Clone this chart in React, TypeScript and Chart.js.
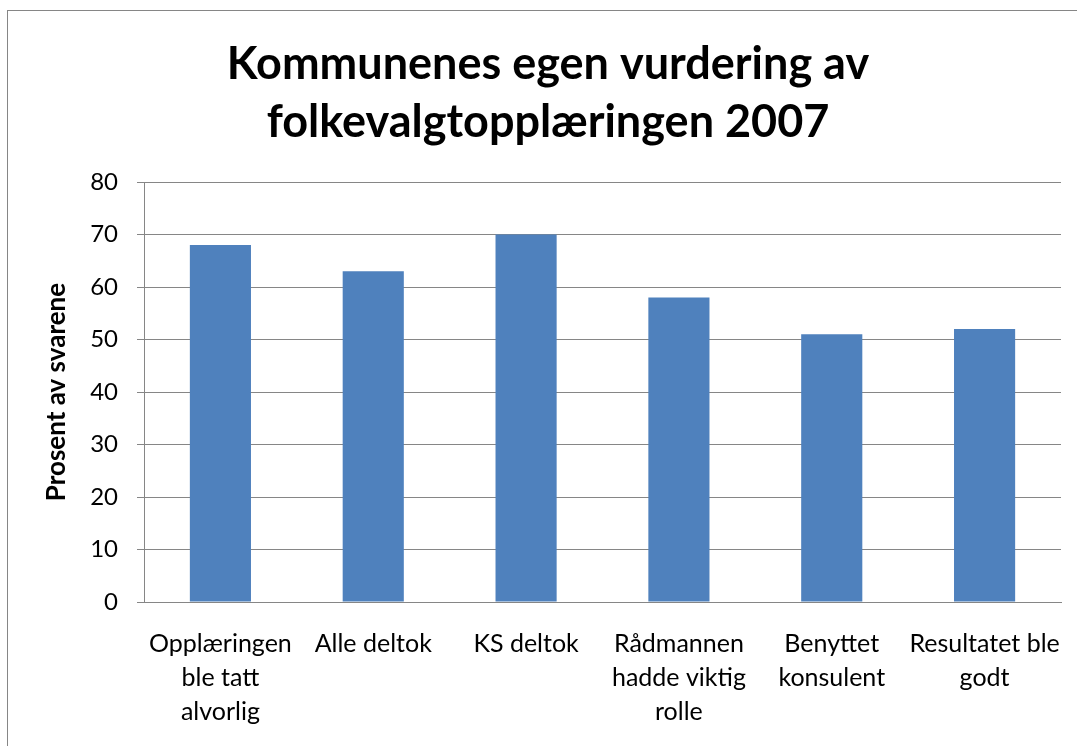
import React, { useEffect, useRef } from "react";
import { Chart, registerables } from "chart.js";

Chart.register(...registerables);

const categories: (string | string[])[] = [
  ["Opplæringen", "ble tatt", "alvorlig"],
  "Alle deltok",
  "KS deltok",
  ["Rådmannen", "hadde viktig", "rolle"],
  ["Benyttet", "konsulent"],
  ["Resultatet ble", "godt"],
];
const values = [68, 63, 70, 58, 51, 52];
const titleLines = ["Kommunenes egen vurdering av", "folkevalgtopplæringen 2007"];
const yAxisTitle = "Prosent av svarene";
const yMin = 0;
const yMax = 80;
const yStep = 10;

const FONT = "Lato, 'Open Sans', sans-serif";
const GRID = "#868686";
const PAD_L = 35;

export default function App() {
  const ref = useRef<HTMLCanvasElement | null>(null);

  useEffect(() => {
    if (!ref.current) return;
    const chart = new Chart(ref.current, {
      type: "bar",
      data: {
        labels: categories,
        datasets: [
          {
            data: values,
            backgroundColor: "#4F81BD",
            borderWidth: 0,
            barPercentage: 0.4,
            categoryPercentage: 1,
          },
        ],
      },
      options: {
        responsive: false,
        animation: false,
        layout: { padding: { left: PAD_L, right: 16, top: 0, bottom: 0 } },
        plugins: {
          legend: { display: false },
          tooltip: { enabled: false },
          title: {
            display: true,
            text: titleLines,
            color: "#000",
            font: { family: FONT, size: 45, weight: "bold", lineHeight: 1.29 },
            padding: { top: 35, bottom: 31 },
          },
        },
        scales: {
          x: {
            grid: { display: false, drawTicks: true, tickLength: 22 },
            border: { display: true, color: GRID, width: 1 },
            ticks: {
              color: "#000",
              font: { family: FONT, size: 25, lineHeight: 1.36 },
              padding: 3,
              maxRotation: 0,
              autoSkip: false,
            },
            afterFit: (s: any) => {
              s.height = 746 - 602;
            },
          },
          y: {
            min: yMin,
            max: yMax,
            grid: { color: GRID, lineWidth: 1, tickLength: 7, drawTicks: true },
            border: { display: true, color: GRID, width: 1 },
            ticks: {
              stepSize: yStep,
              color: "#000",
              font: { family: FONT, size: 24 },
              padding: 19,
            },
            title: {
              display: true,
              text: yAxisTitle,
              color: "#000",
              font: { family: FONT, size: 26, weight: "bold", lineHeight: 1.2 },
              padding: { top: 57 - PAD_L - 15.6, bottom: 0 },
            },
            afterFit: (s: any) => {
              s.width = 144 - PAD_L;
            },
          },
        },
      },
    });
    return () => chart.destroy();
  }, []);

  return (
    <div
      style={{
        position: "fixed",
        left: 0,
        top: 0,
        width: 1077,
        height: 746,
        background: "#fff",
        overflow: "hidden",
      }}
    >
      <div
        style={{
          position: "absolute",
          left: 7,
          top: 10,
          width: 1200,
          height: 900,
          border: "1px solid #868686",
          boxSizing: "border-box",
        }}
      />
      <canvas
        ref={ref}
        width={1077}
        height={746}
        style={{ position: "absolute", left: 0, top: 0, width: 1077, height: 746 }}
      />
    </div>
  );
}
